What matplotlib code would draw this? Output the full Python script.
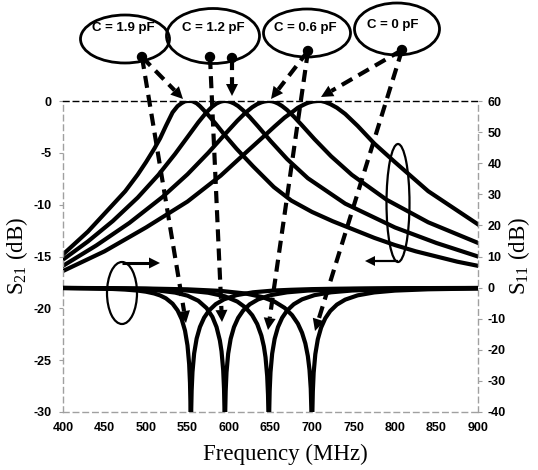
import matplotlib
matplotlib.use("Agg")
import matplotlib.pyplot as plt
from matplotlib.patches import Ellipse, Polygon, Circle
import numpy as np

# C = 1.9 pF  (dip ~554 MHz)
freq_19 = [400, 430, 460, 475, 490, 500, 510, 517, 524, 532, 538, 543, 547, 550, 552, 553, 553.5, 554,
           554.5, 555, 556, 558, 561, 565, 570, 576, 584, 594, 609, 629, 654, 675, 700, 725, 750, 775,
           800, 825, 850, 875, 900]
s21_19 = [-14.80, -12.60, -10.00, -8.70, -7.10, -5.90, -4.60, -3.60, -2.40, -1.10, -0.50, -0.20, -0.03,
          0.0, 0.0, 0.0, 0.0, 0.0, 0.0, -0.01, -0.02, -0.10, -0.22, -0.50, -0.92, -1.45, -2.20, -3.20,
          -4.60, -6.30, -8.30, -9.60, -10.70, -11.60, -12.40, -13.20, -13.90, -14.50, -15.00, -15.50, -15.90]
s11_19 = [-0.15, -0.24, -0.44, -0.64, -0.96, -1.32, -1.90, -2.52, -3.45, -5.17, -7.31, -10.15, -13.85,
          -18.61, -24.61, -30.62, -36.64, -60, -39.17, -33.15, -27.15, -21.17, -16.40, -12.64, -9.68,
          -7.35, -5.33, -3.77, -2.43, -1.51, -0.94, -0.70, -0.49, -0.38, -0.30, -0.25, -0.20, -0.17,
          -0.15, -0.13, -0.11]

# C = 1.2 pF  (~595 MHz)
freq_12 = [400, 430, 460, 490, 515, 535, 550, 563, 573, 580, 585, 589, 591, 593, 594, 594.5, 595, 595.5,
           596, 597, 599, 602, 606, 611, 617, 625, 635, 650, 670, 695, 740, 800, 850, 900]
s21_12 = [-15.30, -13.55, -11.58, -9.32, -7.12, -5.11, -3.48, -2.06, -1.08, -0.53, -0.24, -0.09, -0.04,
          -0.01, 0.0, 0.0, 0.0, 0.0, 0.0, -0.01, -0.03, -0.10, -0.24, -0.49, -0.90, -1.55, -2.45, -3.85,
          -5.60, -7.45, -9.90, -12.20, -13.70, -15.00]
s11_12 = [-0.13, -0.20, -0.31, -0.54, -0.94, -1.60, -2.59, -4.23, -6.59, -9.42, -12.69, -17.00, -20.49,
          -26.50, -32.52, -38.54, -60, -39.24, -33.22, -27.23, -21.24, -16.46, -12.71, -9.74, -7.40, -5.37,
          -3.80, -2.44, -1.52, -0.95, -0.50, -0.28, -0.19, -0.14]

# C = 0.6 pF  (~648 MHz)
freq_06 = [400, 440, 480, 520, 550, 575, 595, 610, 620, 628, 634, 639, 642, 644, 646, 647, 647.5, 648,
           648.5, 649, 650, 652, 655, 659, 664, 670, 678, 688, 703, 723, 748, 790, 840, 900]
s21_06 = [-15.90, -13.94, -11.76, -9.25, -7.07, -5.00, -3.22, -1.91, -1.12, -0.60, -0.30, -0.13, -0.06,
          -0.03, -0.01, 0.0, 0.0, 0.0, 0.0, 0.0, -0.01, -0.03, -0.10, -0.24, -0.49, -0.87, -1.49, -2.35,
          -3.68, -5.33, -7.12, -9.53, -11.70, -13.69]
s11_06 = [-0.11, -0.18, -0.30, -0.55, -0.95, -1.65, -2.81, -4.49, -6.43, -8.89, -11.73, -15.43, -18.90,
          -22.40, -28.42, -34.44, -40.46, -60, -39.24, -33.22, -27.22, -21.23, -16.46, -12.70, -9.72, -7.38,
          -5.36, -3.78, -2.43, -1.51, -0.94, -0.51, -0.30, -0.19]

# C = 0 pF  (dip ~700 MHz, S21 peak a little higher)
freq_00 = [400, 450, 500, 550, 590, 620, 640, 655, 667, 676, 683, 688, 692, 695, 697, 698.5, 699.5, 700,
           700.5, 701, 702, 704, 707, 711, 716, 722, 730, 740, 755, 775, 800, 840, 900]
s21_00 = [-16.40, -14.50, -12.20, -9.70, -7.20, -5.00, -3.55, -2.45, -1.60, -1.08, -0.65, -0.44, -0.28,
          -0.18, -0.13, -0.10, -0.08, -0.07, -0.06, -0.05, -0.04, -0.02, 0.0, 0.0, -0.10, -0.30, -0.65,
          -1.25, -2.40, -4.10, -5.90, -8.70, -11.90]
s11_00 = [-0.10, -0.17, -0.29, -0.56, -1.06, -1.90, -3.03, -4.54, -6.52, -8.86, -11.60, -14.51, -17.97,
          -22.03, -26.46, -32.48, -42.03, -60, -39.41, -33.39, -27.38, -21.40, -16.62, -12.85, -9.87, -7.52,
          -5.47, -3.87, -2.49, -1.55, -0.96, -0.54, -0.29]

cap_labels = ["C = 1.9 pF", "C = 1.2 pF", "C = 0.6 pF", "C = 0 pF"]
x_ticks = [400, 450, 500, 550, 600, 650, 700, 750, 800, 850, 900]
left_ticks = [0, -5, -10, -15, -20, -25, -30]
right_ticks = [60, 50, 40, 30, 20, 10, 0, -10, -20, -30, -40]

plt.rcParams["mathtext.fontset"] = "custom"
plt.rcParams["mathtext.rm"] = "Liberation Serif"

W, H = 538, 470
fig = plt.figure(figsize=(W / 100, H / 100), dpi=100)
ax = fig.add_axes([63 / W, 1 - 412 / H, (478 - 63) / W, (412 - 101) / H])
ax2 = ax.twinx()

for f, s in [(freq_19, s21_19), (freq_12, s21_12), (freq_06, s21_06), (freq_00, s21_00)]:
    ax.plot(f, s, color="k", lw=3.0, solid_joinstyle="round")
for f, s in [(freq_19, s11_19), (freq_12, s11_12), (freq_06, s11_06), (freq_00, s11_00)]:
    ax2.plot(f, s, color="k", lw=3.0, solid_joinstyle="round")

ax.set_xlim(400, 900)
ax.set_ylim(-30, 0)
ax2.set_ylim(-40, 60)
ax.set_xticks(x_ticks)
ax.set_yticks(left_ticks)
ax2.set_yticks(right_ticks)

ax.set_xticklabels([str(t) for t in x_ticks], fontfamily="Liberation Sans", fontweight="bold", fontsize=9)
ax.set_yticklabels([str(t) for t in left_ticks], fontfamily="Liberation Sans", fontweight="bold", fontsize=9)
ax2.set_yticklabels([str(t) for t in right_ticks], fontfamily="Liberation Sans", fontweight="bold", fontsize=9)
ax.tick_params(axis="x", length=0, pad=7)
ax.tick_params(axis="y", length=3, color="#a0a0a0", pad=5)
ax2.tick_params(axis="y", length=3, color="#a0a0a0", pad=4)

for side in ["left", "right", "bottom"]:
    ax.spines[side].set_color("#a0a0a0")
    ax.spines[side].set_linestyle((0, (4, 3)))
    ax.spines[side].set_linewidth(1.0)
ax.spines["top"].set_color("k")
ax.spines["top"].set_linestyle((0, (4, 3)))
ax.spines["top"].set_linewidth(1.0)
for side in ax2.spines:
    ax2.spines[side].set_visible(False)

lab_font = dict(family="Liberation Serif", size=16.5)
fig.text(285 / W, 1 - 454 / H, "Frequency (MHz)", ha="center", va="center", **lab_font)
fig.text(17 / W, 1 - 256 / H, r"S$_\mathregular{21}$ (dB)", ha="center", va="center",
         rotation=90, **lab_font)
fig.text(519 / W, 1 - 256 / H, r"S$_\mathregular{11}$ (dB)", ha="center", va="center",
         rotation=90, **lab_font)

# overlay in pixel coordinates for the callouts
ov = fig.add_axes([0, 0, 1, 1], zorder=5)
ov.set_xlim(0, W)
ov.set_ylim(H, 0)
ov.axis("off")
ov.patch.set_alpha(0)


def arrow(x0, y0, x1, y1, dashed=True, lw=3.0, hl=12, hw=6):
    d = np.hypot(x1 - x0, y1 - y0)
    ux, uy = (x1 - x0) / d, (y1 - y0) / d
    bx, by = x1 - ux * hl, y1 - uy * hl
    ls = (0, (2.9, 1.7)) if dashed else "-"
    ov.plot([x0, bx], [y0, by], color="k", lw=lw, ls=ls, solid_capstyle="butt", dash_capstyle="butt")
    tri = [(x1, y1), (bx - uy * hw, by + ux * hw), (bx + uy * hw, by - ux * hw)]
    ov.add_patch(Polygon(tri, closed=True, color="k", lw=0))


ellipses = [((125, 39), 89, 48), ((213, 36), 93, 55), ((307, 33), 87, 48), ((397, 29), 85, 52)]
text_pos = [(123, 28), (213, 28), (305, 28), (393, 25)]
for (c, w, h), lab, tp in zip(ellipses, cap_labels, text_pos):
    ov.add_patch(Ellipse(c, w, h, fill=False, ec="k", lw=2))
    ov.text(tp[0], tp[1], lab, ha="center", va="center", family="Liberation Sans", weight="bold", size=9.5)

arrows = [
    ((142, 57), (183, 99)), ((142, 57), (186, 323)),
    ((210, 57), (222, 322)), ((232, 58), (232, 96)),
    ((308, 51), (271, 99)), ((308, 51), (268, 330)),
    ((402, 50), (321, 97)), ((402, 50), (315, 331)),
]
for (p0, p1) in arrows:
    arrow(p0[0], p0[1], p1[0], p1[1])
for dot in [(142, 57), (210, 57), (232, 58), (308, 51), (402, 50)]:
    ov.add_patch(Circle(dot, 4.5, color="k"))

# small ellipses marking which axis each family uses
ov.add_patch(Ellipse((122, 293), 30, 62, fill=False, ec="k", lw=1.6))
arrow(122, 263, 160, 263, dashed=False, lw=2.2, hl=11, hw=5.5)
ov.add_patch(Ellipse((398, 203), 23, 118, fill=False, ec="k", lw=1.6))
arrow(398, 261, 365, 261, dashed=False, lw=1.6, hl=10, hw=5)

fig.savefig("out.png", dpi=100)
